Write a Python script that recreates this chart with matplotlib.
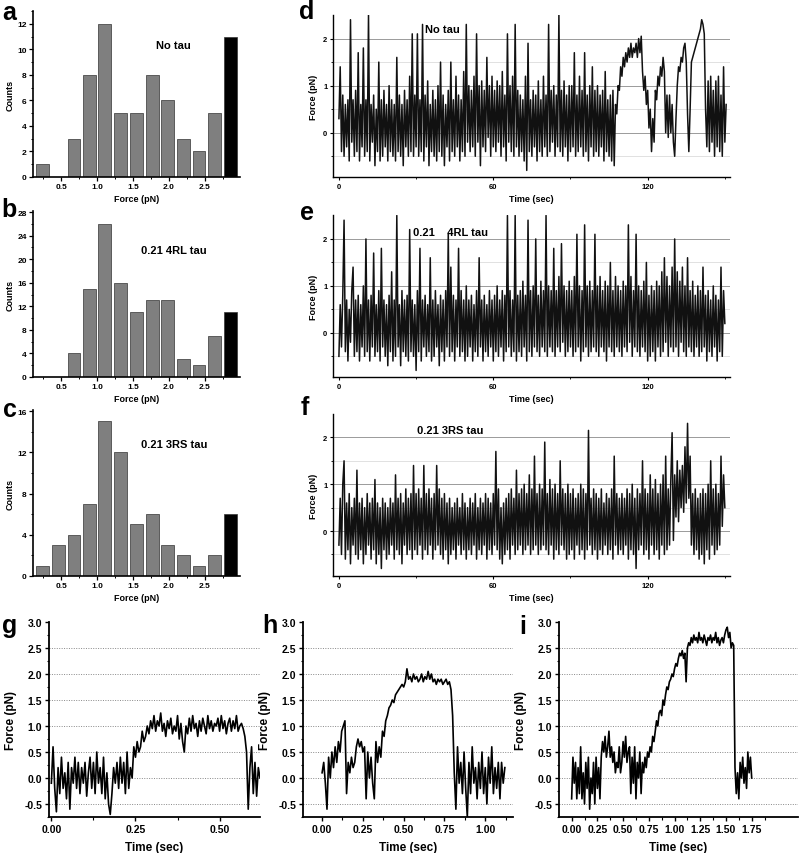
import numpy as np
import matplotlib
matplotlib.use("Agg")
import matplotlib.pyplot as plt
from matplotlib.ticker import MultipleLocator, FixedLocator

plt.rcParams['font.family'] = ['Liberation Sans', 'DejaVu Sans']
plt.rcParams['font.weight'] = 'bold'
plt.rcParams['axes.labelweight'] = 'bold'

# ---------------- histogram data (a, b, c) ----------------
bin_centers = [0.24, 0.46, 0.68, 0.90, 1.11, 1.33, 1.55, 1.77, 1.98, 2.20, 2.42, 2.64, 2.86]
counts_no_tau = [1, 0, 3, 8, 12, 5, 5, 8, 6, 3, 2, 5, 11]
counts_4rl = [0, 0, 4, 15, 26, 16, 11, 13, 13, 3, 2, 7, 11]
counts_3rs = [1, 3, 4, 7, 15, 12, 5, 6, 3, 2, 1, 2, 6]
hist_labels = ["No tau", "0.21 4RL tau", "0.21 3RS tau"]

# ---------------- long traces (d, e, f), sampled every 0.5 s ----------------
trace_dt = 0.5
force_no_tau = [
    0.3, 1.4, -0.4, 0.8, -0.5, 0.6, -0.3, 0.7, -0.6, 2.4, -0.2, 0.7, -0.5, 0.9, -0.4, 1.7, -0.6, 0.6, -0.3, 1.8,
    -0.5, 0.7, -0.4, 2.5, -0.6, 0.6, -0.2, 0.8, -0.7, 0.5, -0.4, 1.5, -0.6, 0.7, -0.5, 0.9, -0.3, 0.6, -0.6, 1.0,
    -0.4, 0.7, -0.5, 0.6, -0.6, 1.6, -0.4, 0.8, -0.5, 0.6, -0.7, 0.9, -0.3, 0.7, -0.5, 1.2, -0.4, 2.1, -0.5, 0.8,
    -0.3, 2.1, -0.5, 0.7, -0.4, 2.3, -0.6, 0.8, -0.3, 1.1, -0.7, 0.6, -0.4, 0.9, -0.5, 0.7, -0.6, 1.0, -0.4, 1.5,
    -0.5, 0.8, -0.7, 0.6, -0.3, 0.9, -0.6, 1.5, -0.4, 0.7, -0.5, 1.2, -0.3, 0.8, -0.6, 0.7, -0.4, 1.3, -0.5, 2.3,
    -0.2, 1.0, -0.4, 0.9, -0.3, 1.2, -0.5, 2.1, -0.2, 1.0, -0.7, 1.1, -0.3, 0.9, -0.4, 1.6, -0.1, 1.0, -0.5, 1.2,
    -0.3, 0.9, -0.4, 1.1, -0.2, 1.0, -0.5, 1.3, -0.3, 0.8, -0.6, 2.1, -0.2, 1.0, -0.4, 1.2, -0.5, 2.3, -0.3, 0.9,
    -0.5, 0.8, -0.4, 0.7, -0.6, 1.2, -0.8, 1.9, -0.4, 0.7, -0.5, 0.9, -0.3, 0.8, -0.6, 1.1, -0.4, 0.7, -0.5, 1.2,
    -0.3, 0.8, -0.5, 2.3, -0.4, 0.9, -0.2, 1.0, -0.5, 0.8, -0.3, 2.5, -0.4, 0.9, -0.5, 1.1, -0.3, 0.8, -0.6, 1.0,
    -0.4, 1.0, -0.3, 1.7, -0.5, 0.8, -0.4, 1.2, -0.3, 0.9, -0.5, 1.7, -0.4, 0.8, -0.6, 1.0, -0.3, 1.4, -0.5, 0.9,
    -0.4, 1.0, -0.5, 0.8, -0.3, 0.9, -0.6, 1.3, -0.4, 0.7, -0.5, 0.8, -0.6, 0.9, -0.7, 0.6,
    0.4, 1.0, 0.9, 1.4, 1.2, 1.6, 1.4, 1.7, 1.5, 1.8, 1.6, 1.9, 1.6, 1.8, 1.7, 1.9, 1.6, 2.0, 1.7, 2.05,
    1.3, 0.9, 1.2, 0.6, 0.9, 0.1, 0.5, -0.4, 0.3, -0.2, 0.9, 0.7, 1.2, 1.0, 1.4, 1.2, 1.6, 1.3, 0.0, 0.8,
    -0.1, 0.8, 0.0, 0.6, -0.2, -0.5, 0.3, 1.0, 1.4, 1.3, 1.6, 1.5, 1.8, 1.9, 1.5, 0.4, -0.4, 0.5, 1.5, 1.6,
    1.7, 1.8, 1.9, 2.0, 2.1, 2.2, 2.4, 2.3, 2.1, 0.5, -0.3, 1.1, -0.4, 1.2, -0.2, 0.9, -0.5, 1.1, -0.3, 1.2,
    -0.4, 0.8, -0.5, 1.4, -0.2, 0.6,
]
force_4rl = [
    -0.5, 0.6, -0.3, 0.8, 2.4, -0.4, 0.7, -0.6, 0.5, -0.2, 0.9, 1.4, -0.5, 0.7, -0.4, 0.8, -0.6, 0.6, -0.3, 1.0,
    -0.5, 2.0, -0.4, 0.7, -0.6, 0.8, -0.3, 1.7, -0.5, 0.6, -0.4, 0.9, -0.6, 1.8, -0.3, 0.7, -0.5, 0.6, -0.7, 0.8,
    -0.4, 1.3, -0.6, 0.7, -0.5, 2.5, -0.3, 0.6, -0.7, 0.9, -0.4, 0.7, -0.5, 0.8, -0.6, 2.2, -0.4, 0.7, -0.5, 0.6,
    -0.8, 0.9, -0.4, 1.8, -0.6, 0.7, -0.3, 0.8, -0.5, 0.6, -0.4, 1.6, -0.6, 0.7, -0.5, 0.9, -0.3, 0.6, -0.7, 0.8,
    -0.4, 0.7, -0.6, 0.9, -0.3, 2.1, -0.5, 1.4, -0.4, 0.8, -0.6, 0.7, -0.3, 1.8, -0.5, 0.9, -0.4, 0.7, -0.6, 1.0,
    -0.5, 0.7, -0.3, 0.8, -0.6, 0.6, -0.4, 0.9, -0.5, 1.6, -0.3, 0.7, -0.6, 0.8, -0.4, 0.6, -0.5, 0.9, -0.3, 0.7,
    -0.6, 0.8, -0.4, 1.0, -0.5, 0.7, -0.3, 0.9, -0.6, 0.8, -0.4, 2.5, -0.3, 0.9, -0.5, 0.7, -0.4, 2.5, -0.6, 0.8,
    -0.4, 0.9, -0.5, 1.1, -0.3, 0.8, -0.6, 2.4, -0.4, 0.9, -0.5, 1.0, -0.3, 2.0, -0.4, 0.8, -0.5, 1.1, -0.3, 0.9,
    -0.4, 2.5, -0.5, 1.0, -0.3, 0.9, -0.4, 1.8, -0.5, 0.9, -0.3, 1.2, -0.4, 1.9, -0.2, 1.0, -0.5, 0.9, -0.4, 1.1,
    -0.3, 0.9, -0.5, 1.2, -0.4, 2.1, -0.3, 1.0, -0.6, 0.9, -0.4, 2.3, -0.3, 1.0, -0.5, 1.1, -0.4, 0.9, -0.3, 2.1,
    -0.4, 1.0, -0.5, 1.2, -0.3, 0.9, -0.4, 1.1, -0.6, 1.0, -0.3, 1.5, -0.4, 0.9, -0.5, 1.2, -0.3, 1.0, -0.4, 0.9,
    -0.5, 1.1, -0.3, 1.0, -0.4, 2.3, -0.2, 1.2, -0.5, 0.9, -0.3, 2.1, -0.4, 1.0, -0.5, 0.9, -0.3, 1.1, -0.4, 1.5,
    -0.6, 0.8, -0.5, 1.0, -0.4, 0.9, -0.6, 1.1, -0.3, 1.0, -0.5, 1.3, -0.4, 1.6, -0.2, 1.2, -0.5, 1.0, -0.3, 1.4,
    -0.4, 2.0, -0.3, 1.3, -0.5, 1.1, -0.2, 1.4, -0.4, 1.0, -0.5, 1.6, -0.3, 0.9, -0.4, 1.1, -0.5, 0.8, -0.3, 1.0,
    -0.5, 0.9, -0.4, 1.4, -0.3, 0.8, -0.6, 0.9, -0.4, 0.7, -0.5, 1.0, -0.3, 0.8, -0.6, 0.7, -0.4, 1.4, -0.5, 0.9,
    0.2,
]
force_3rs = [
    -0.3, 0.7, -0.5, 1.0, 1.5, -0.6, 0.6, -0.4, 0.8, -0.7, 0.5, -0.3, 0.7, -0.5, 1.3, -0.6, 0.6, -0.4, 0.7, -0.7,
    0.5, -0.5, 0.8, -0.3, 0.6, -0.6, 0.7, -0.4, 1.1, -0.7, 0.6, -0.5, 0.5, -0.8, 0.7, -0.4, 0.6, -0.6, 0.5, -0.5,
    0.7, -0.3, 0.6, -0.6, 1.2, -0.4, 0.7, -0.5, 0.8, -0.7, 0.6, -0.3, 0.9, -0.5, 0.7, -0.4, 0.8, -0.6, 1.4, -0.4,
    0.8, -0.5, 0.9, -0.3, 0.7, -0.6, 1.4, -0.4, 0.8, -0.5, 0.9, -0.3, 0.7, -0.6, 0.8, -0.4, 1.4, -0.3, 0.9, -0.5,
    0.7, -0.6, 0.8, -0.4, 0.6, -0.7, 0.7, -0.5, 0.5, -0.4, 0.6, -0.6, 0.7, -0.3, 0.5, -0.5, 0.8, -0.4, 0.6, -0.6,
    0.5, -0.4, 0.7, -0.5, 0.6, -0.3, 0.8, -0.6, 0.5, -0.4, 0.7, -0.5, 0.6, -0.3, 0.8, -0.6, 0.7, -0.4, 0.6, -0.5,
    0.8, -0.3, 1.7, -0.4, 0.9, -0.6, 0.5, -0.7, 0.6, -0.5, 0.7, -0.4, 0.8, -0.6, 0.9, -0.3, 0.7, -0.5, 1.3, -0.4,
    0.8, -0.3, 0.9, -0.5, 1.0, -0.4, 0.8, -0.3, 1.2, -0.5, 0.9, -0.4, 1.6, -0.3, 0.8, -0.5, 1.0, -0.4, 0.9, -0.3,
    1.9, -0.4, 0.8, -0.5, 1.1, -0.3, 0.9, -0.6, 1.0, -0.4, 0.8, -0.5, 1.5, -0.3, 0.9, -0.4, 0.8, -0.6, 1.0, -0.5,
    0.8, -0.4, 0.9, -0.6, 0.7, -0.3, 0.8, -0.5, 1.0, -0.4, 0.9, -0.6, 0.8, -0.4, 2.15, -0.3, 0.7, -0.5, 0.9, -0.4,
    0.8, -0.6, 0.7, -0.4, 0.9, -0.5, 0.6, -0.3, 0.8, -0.5, 0.7, -0.4, 0.9, -0.6, 1.6, -0.3, 0.8, -0.5, 0.7, -0.4,
    0.8, -0.5, 0.7, -0.3, 0.9, -0.6, 0.8, -0.4, 1.0, -0.5, 0.7, -0.8, 0.9, -0.4, 0.8, -0.3, 1.5, -0.5, 0.9, -0.4,
    0.8, -0.6, 1.2, -0.3, 0.9, -0.5, 1.1, -0.4, 0.8, -0.6, 1.0, -0.3, 1.2, -0.5, 1.6, -0.4, 0.9, -0.3, 1.1, 2.1,
    -0.2, 1.2, 0.3, 1.5, 0.2, 1.3, 0.5, 1.4, 0.4, 1.8, 0.6, 2.3, 0.7, 1.6, -0.3, 0.8, -0.5, 0.9, -0.4, 0.7,
    -0.6, 0.8, -0.5, 0.9, -0.7, 0.8, -0.4, 1.0, -0.6, 1.5, -0.3, 0.9, -0.5, 1.0, -0.4, 0.8, -0.3, 1.6, 0.1, 1.2,
    0.5,
]
trace_labels = ["No tau", "0.21    4RL tau", "0.21 3RS tau"]

# ---------------- single events (g, h, i) ----------------
event_g_dt = 0.005
event_g = [
    -0.1, 0.6, -0.2, -0.65, 0.2, -0.3, 0.4, -0.2, 0.1, -0.4, 0.3, -0.6, 0.2, -0.1, 0.4, -0.2, 0.3, -0.3, 0.2, -0.1,
    0.3, -0.35, 0.1, 0.4, -0.2, 0.3, -0.3, 0.5, -0.1, 0.2, -0.3, 0.4, -0.4, 0.1, -0.5, -0.7, -0.3, 0.2, -0.1, 0.3,
    -0.2, 0.4, -0.1, 0.3, -0.3, 0.5, -0.2, 0.2, 0.0, 0.6, 0.4, 0.7, 0.5, 0.6, 0.9, 0.7, 0.8, 1.0, 0.85, 1.1,
    0.95, 1.2, 0.9, 1.1, 1.0, 1.25, 0.9, 1.05, 0.8, 1.1, 0.95, 1.15, 0.85, 1.0, 0.9, 1.2, 0.75, 1.05, 0.7, 0.5,
    1.0, 0.85, 1.15, 0.9, 1.2, 0.95, 1.05, 0.8, 1.1, 0.9, 1.15, 1.0, 0.85, 1.2, 0.95, 1.1, 0.9, 1.05, 1.0, 1.15,
    0.9, 1.2, 0.95, 1.1, 0.85, 1.05, 1.15, 0.9, 1.1, 0.95, 1.2, 0.9, 1.0, 1.05, 0.95, 0.8, 0.5, -0.6, 0.2, 0.6,
    -0.3, 0.3, -0.35, 0.2, 0.0,
]
event_h_dt = 0.01
event_h = [
    0.1, 0.3, -0.1, -0.6, 0.4, 0.0, 0.5, 0.2, 0.6, 0.3,
    0.7, 0.5, 0.9, 1.0, 1.1, -0.3, 0.3, 0.1, 0.4, 0.2,
    0.3, 0.6, 0.75, 0.6, 0.7, 0.5, 0.6, -0.4, 0.5, 0.0,
    0.4, -0.1, -0.4, 0.7, 0.3, 0.6, 0.4, 0.9, 0.8, 1.1,
    1.2, 1.35, 1.4, 1.5, 1.45, 1.6, 1.65, 1.7, 1.75, 1.8,
    1.75, 1.85, 2.1, 1.9, 1.95, 1.85, 2.0, 1.9, 1.95, 1.85,
    1.9, 2.0, 1.85, 1.95, 1.9, 2.05, 1.9, 2.0, 1.85, 1.9,
    1.8, 1.9, 1.85, 1.9, 1.8, 1.85, 1.9, 1.8, 1.85, 1.7,
    1.2, 0.1, -0.6, 0.6, -0.1, 0.3, -0.3, 0.5, -0.2, -0.75,
    0.3, -0.3, 0.6, -0.1, 0.2, -0.4, 0.3, -0.2, 0.5, -0.3,
    0.2, -0.5, 0.4, -0.1, 0.6, -0.3, 0.2, -0.2, 0.3, -0.4,
    0.3, -0.1, 0.2,
]
event_i_dt = 0.0125
event_i = [
    -0.4, 0.4, -0.1, 0.3, -0.4, 0.2, -0.3, 0.6, -0.4, 0.1, -0.5, 0.3, -0.2, 0.4, -0.6, 0.0, -0.3, 0.3, -0.5, 0.4,
    -0.2, 0.2, -0.4, 0.4, 0.7, 0.5, 0.8, 0.4, 0.6, 0.9, 0.4, 0.6, 0.3, 0.5, 0.1, 0.3, 0.2, 0.6, 0.1, 0.3,
    0.7, 0.4, 0.8, 0.3, 0.5, 0.6, -0.3, 0.4, -0.1, 0.6, -0.4, 0.3, 0.0, 0.5, -0.3, 0.3, 0.1, 0.4, 0.2, 0.5,
    0.4, 0.6, 0.5, 0.8, 0.7, 0.9, 1.1, 1.0, 1.25, 1.3, 1.2, 1.5, 1.4, 1.6, 1.75, 1.7, 1.85, 1.9, 2.0, 1.95,
    2.1, 2.2, 2.15, 2.3, 2.4, 2.35, 2.45, 2.3, 2.4, 1.85, 2.5, 2.6, 2.55, 2.7, 2.6, 2.75, 2.65, 2.7, 2.6, 2.8,
    2.65, 2.7, 2.6, 2.75, 2.65, 2.55, 2.7, 2.65, 2.75, 2.6, 2.7, 2.65, 2.8, 2.6, 2.7, 2.55, 2.65, 2.7, 2.6, 2.75,
    2.85, 2.9, 2.7, 2.8, 2.5, 2.6, 2.55, 0.2, -0.3, 0.1, -0.4, 0.3, 0.0, 0.4, -0.1, 0.2, -0.2, 0.5, 0.1, 0.4,
    0.0,
]

W, H = 800, 854
fig = plt.figure(figsize=(W / 100, H / 100), dpi=100)


def add_px_axes(left, top, right, bottom):
    # axes placed by pixel box
    return fig.add_axes([left / W, 1 - bottom / H, (right - left) / W, (bottom - top) / H])


def clean_spines(ax, lw=1.2):
    ax.spines['top'].set_visible(False)
    ax.spines['right'].set_visible(False)
    ax.spines['left'].set_linewidth(lw)
    ax.spines['bottom'].set_linewidth(lw)


# ---------------- histograms ----------------
hist_boxes = [(33, 12, 240, 178), (33, 212, 240, 378), (33, 411, 240, 577)]
hist_counts = [counts_no_tau, counts_4rl, counts_3rs]
hist_ylims = [13, 28.2, 16.1]
hist_major = [2, 4, 4]
hist_minor = [1, 2, 2]
hist_text_y = [10.3, 21.6, 12.8]
bar_colors = ['#7f7f7f'] * (len(bin_centers) - 1) + ['black']

for box, cnt, ytop, maj, mnr, ty, lab in zip(hist_boxes, hist_counts, hist_ylims,
                                             hist_major, hist_minor, hist_text_y, hist_labels):
    ax = add_px_axes(*box)
    ax.bar(bin_centers, cnt, width=0.18, color=bar_colors, edgecolor='#333333', linewidth=0.5)
    ax.set_xlim(0.11, 2.99)
    ax.set_ylim(0, ytop)
    ax.xaxis.set_major_locator(FixedLocator([0.5, 1.0, 1.5, 2.0, 2.5]))
    ax.xaxis.set_minor_locator(FixedLocator([0.25, 0.75, 1.25, 1.75, 2.25, 2.75]))
    ax.yaxis.set_major_locator(MultipleLocator(maj))
    ax.yaxis.set_minor_locator(MultipleLocator(mnr))
    ax.tick_params(which='major', length=3, width=0.9, labelsize=6, pad=1.5)
    ax.tick_params(which='minor', length=1.5, width=0.7)
    ax.set_xlabel("Force (pN)", fontsize=6.5, labelpad=3)
    ax.set_ylabel("Counts", fontsize=6.5, labelpad=2)
    ax.text(2.07, ty, lab, ha='center', va='center', fontsize=8, fontweight='bold')
    clean_spines(ax)

# ---------------- long force traces ----------------
trace_boxes = [(333, 16, 730, 178), (333, 216, 730, 378), (333, 415, 730, 577)]
trace_forces = [force_no_tau, force_4rl, force_3rs]
trace_ylims = [(-0.94, 2.5), (-0.94, 2.51), (-0.96, 2.5)]
trace_text_pos = [(40.4, 2.2), (43.5, 2.15), (43.2, 2.16)]

for box, fvals, yl, tpos, lab in zip(trace_boxes, trace_forces, trace_ylims, trace_text_pos, trace_labels):
    ax = add_px_axes(*box)
    t = np.arange(len(fvals)) * trace_dt
    for lvl in [-0.5, 0.5, 1.5]:
        ax.axhline(lvl, color='#dcdcdc', lw=0.6, zorder=0)
    for lvl in [0, 1, 2]:
        ax.axhline(lvl, color='#9a9a9a', lw=0.7, zorder=0)
    ax.plot(t, fvals, color='#111111', lw=1.1)
    ax.set_xlim(-2.3, 152)
    ax.set_ylim(*yl)
    ax.xaxis.set_major_locator(FixedLocator([0, 60, 120]))
    ax.xaxis.set_minor_locator(FixedLocator([30, 90, 150]))
    ax.yaxis.set_major_locator(FixedLocator([0, 1, 2]))
    ax.yaxis.set_minor_locator(FixedLocator([-0.5, 0.5, 1.5]))
    ax.tick_params(which='major', length=2.5, width=0.8, labelsize=5.5, pad=1.5)
    ax.tick_params(which='minor', length=1.5, width=0.6)
    ax.set_xlabel("Time (sec)", fontsize=6.5, labelpad=3)
    ax.set_ylabel("Force (pN)", fontsize=6.5, labelpad=4)
    ax.text(tpos[0], tpos[1], lab, ha='center', va='center', fontsize=8, fontweight='bold')
    clean_spines(ax, lw=1.0)

# ---------------- single events ----------------
event_boxes = [(49, 623, 260, 818), (303, 623, 513, 818), (559, 623, 798, 818)]
event_forces = [event_g, event_h, event_i]
event_dts = [event_g_dt, event_h_dt, event_i_dt]
event_xlims = [(-0.007, 0.62), (-0.117, 1.17), (-0.123, 2.2)]
event_xticks = [[0.0, 0.25, 0.5], [0.0, 0.25, 0.5, 0.75, 1.0],
                [0.0, 0.25, 0.5, 0.75, 1.0, 1.25, 1.5, 1.75]]

for box, fvals, dt, xl, xt in zip(event_boxes, event_forces, event_dts, event_xlims, event_xticks):
    ax = add_px_axes(*box)
    t = np.arange(len(fvals)) * dt
    for lvl in [-0.5, 0.0, 0.5, 1.0, 1.5, 2.0, 2.5]:
        ax.axhline(lvl, color='#888888', lw=0.7, ls=(0, (1, 1.5)), zorder=0)
    ax.plot(t, fvals, color='black', lw=1.2)
    ax.set_xlim(*xl)
    ax.set_ylim(-0.75, 3.0)
    ax.xaxis.set_major_locator(FixedLocator(xt))
    ax.xaxis.set_minor_locator(FixedLocator([v + 0.125 for v in xt]))
    ax.xaxis.set_major_formatter(matplotlib.ticker.FormatStrFormatter('%.2f'))
    ax.yaxis.set_major_locator(MultipleLocator(0.5))
    ax.yaxis.set_minor_locator(MultipleLocator(0.25))
    ax.yaxis.set_major_formatter(matplotlib.ticker.FormatStrFormatter('%.1f'))
    ax.tick_params(which='major', length=3, width=1.0, labelsize=7.5, pad=2)
    ax.tick_params(which='minor', length=1.8, width=0.8)
    ax.set_xlabel("Time (sec)", fontsize=8.5, labelpad=5)
    ax.set_ylabel("Force (pN)", fontsize=8.5, labelpad=5)
    clean_spines(ax, lw=1.3)

# panel letters
letters = ['a', 'b', 'c', 'd', 'e', 'f', 'g', 'h', 'i']
letter_px = [(9, 13), (9, 210), (10, 410), (307, 12), (307, 213), (305, 408), (10, 626), (270, 626), (523, 627)]
for lt, (x, y) in zip(letters, letter_px):
    fig.text(x / W, 1 - y / H, lt, ha='center', va='center', fontsize=18, fontweight='bold')

plt.savefig("out.png", dpi=100)
plt.close()
